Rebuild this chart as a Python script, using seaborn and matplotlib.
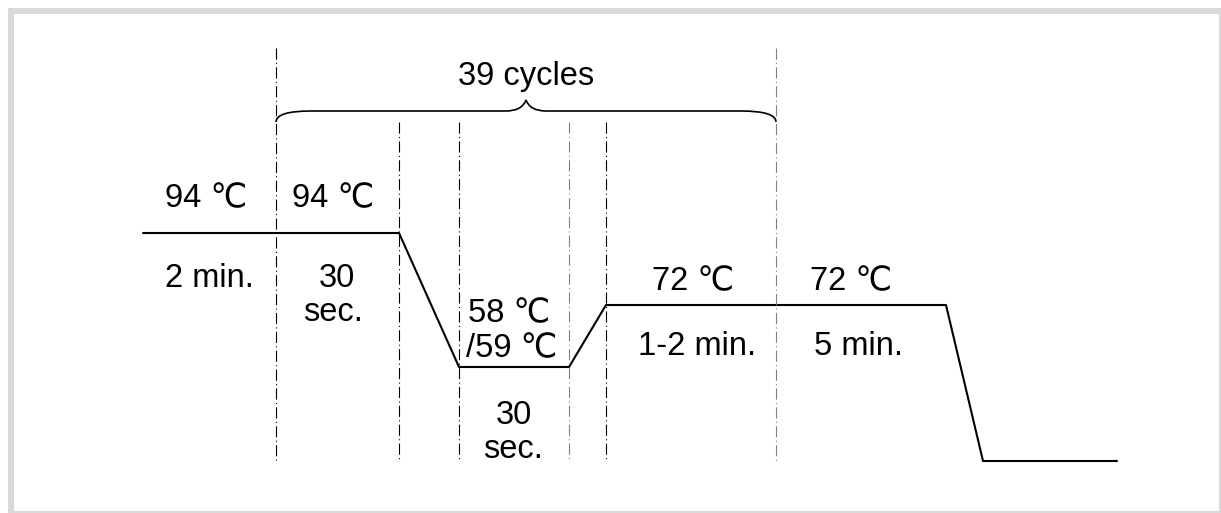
import matplotlib
matplotlib.use("Agg")
import matplotlib.pyplot as plt
import seaborn as sns
from matplotlib.patches import Rectangle, PathPatch
from matplotlib.path import Path

# PCR temperature profile (schematic units: x = time axis, y = level, drawn top-down)
time_pts = [143, 399, 459, 569, 606, 946, 983, 1117]
temp_level = [233, 233, 367, 367, 305, 305, 461, 461]

# step boundaries (dash-dot guides)
guide_x = [276, 399, 459, 569, 606, 776]
guide_top = [48, 122, 122, 122, 122, 48]
guide_color = ["black", "black", "black", "#808080", "black", "#808080"]
guide_bottom = 461

# labels: text, x centre, baseline
labels = ["94 ℃", "2 min.", "94 ℃", "30", "sec.", "58 ℃", "/59 ℃", "30", "sec.",
          "72 ℃", "1-2 min.", "72 ℃", "5 min."]
label_x = [206, 209, 333, 337, 333, 509, 512, 514, 513, 693, 697, 851, 859]
label_y = [207, 287, 207, 287, 321, 322, 357, 424, 458, 290, 355, 290, 355]

cycle_text = "39 cycles"
brace_span = [276, 776]

sns.set_theme(style="white")
plt.rcParams["font.family"] = ["Liberation Sans", "DejaVu Sans"]

fig = plt.figure(figsize=(12.21, 5.13), dpi=100)
ax = fig.add_axes([0, 0, 1, 1])
ax.set_xlim(0, 1221)
ax.set_ylim(513, 0)
ax.axis("off")

# frame
ax.add_patch(Rectangle((8, 8), 1213, 505, facecolor="#d9d9d9", edgecolor="none", zorder=0))
ax.add_patch(Rectangle((14, 14), 1205, 497, facecolor="white", edgecolor="none", zorder=0))

# temperature profile
sns.lineplot(x=time_pts, y=temp_level, sort=False, estimator=None,
             color="black", linewidth=1.5, ax=ax)

# step guides
for gx, gt, gc in zip(guide_x, guide_top, guide_color):
    ax.vlines(gx, gt, guide_bottom, colors=gc, linewidth=0.8,
              linestyles=(0, (10, 3, 1, 3)))

# curly brace over the cycling steps
x0, x1 = brace_span
xm = (x0 + x1) / 2
yb, yt, yp = 122, 111, 100
verts = [(x0, yb), (x0, yt), (x0 + 35, yt), (xm - 20, yt),
         (xm - 4, yt), (xm, yp), (xm + 4, yt), (xm + 20, yt),
         (x1 - 35, yt), (x1, yt), (x1, yb)]
codes = [Path.MOVETO, Path.CURVE3, Path.CURVE3, Path.LINETO,
         Path.CURVE3, Path.CURVE3, Path.CURVE3, Path.CURVE3,
         Path.LINETO, Path.CURVE3, Path.CURVE3]
ax.add_patch(PathPatch(Path(verts, codes), facecolor="none", edgecolor="black", linewidth=1.2))
ax.text(xm, 85, cycle_text, ha="center", va="baseline", fontsize=23.5, color="black")

for t, x, y in zip(labels, label_x, label_y):
    ax.text(x, y, t, ha="center", va="baseline", fontsize=23.5, color="black")

fig.savefig("out.png", dpi=100)
plt.close(fig)
